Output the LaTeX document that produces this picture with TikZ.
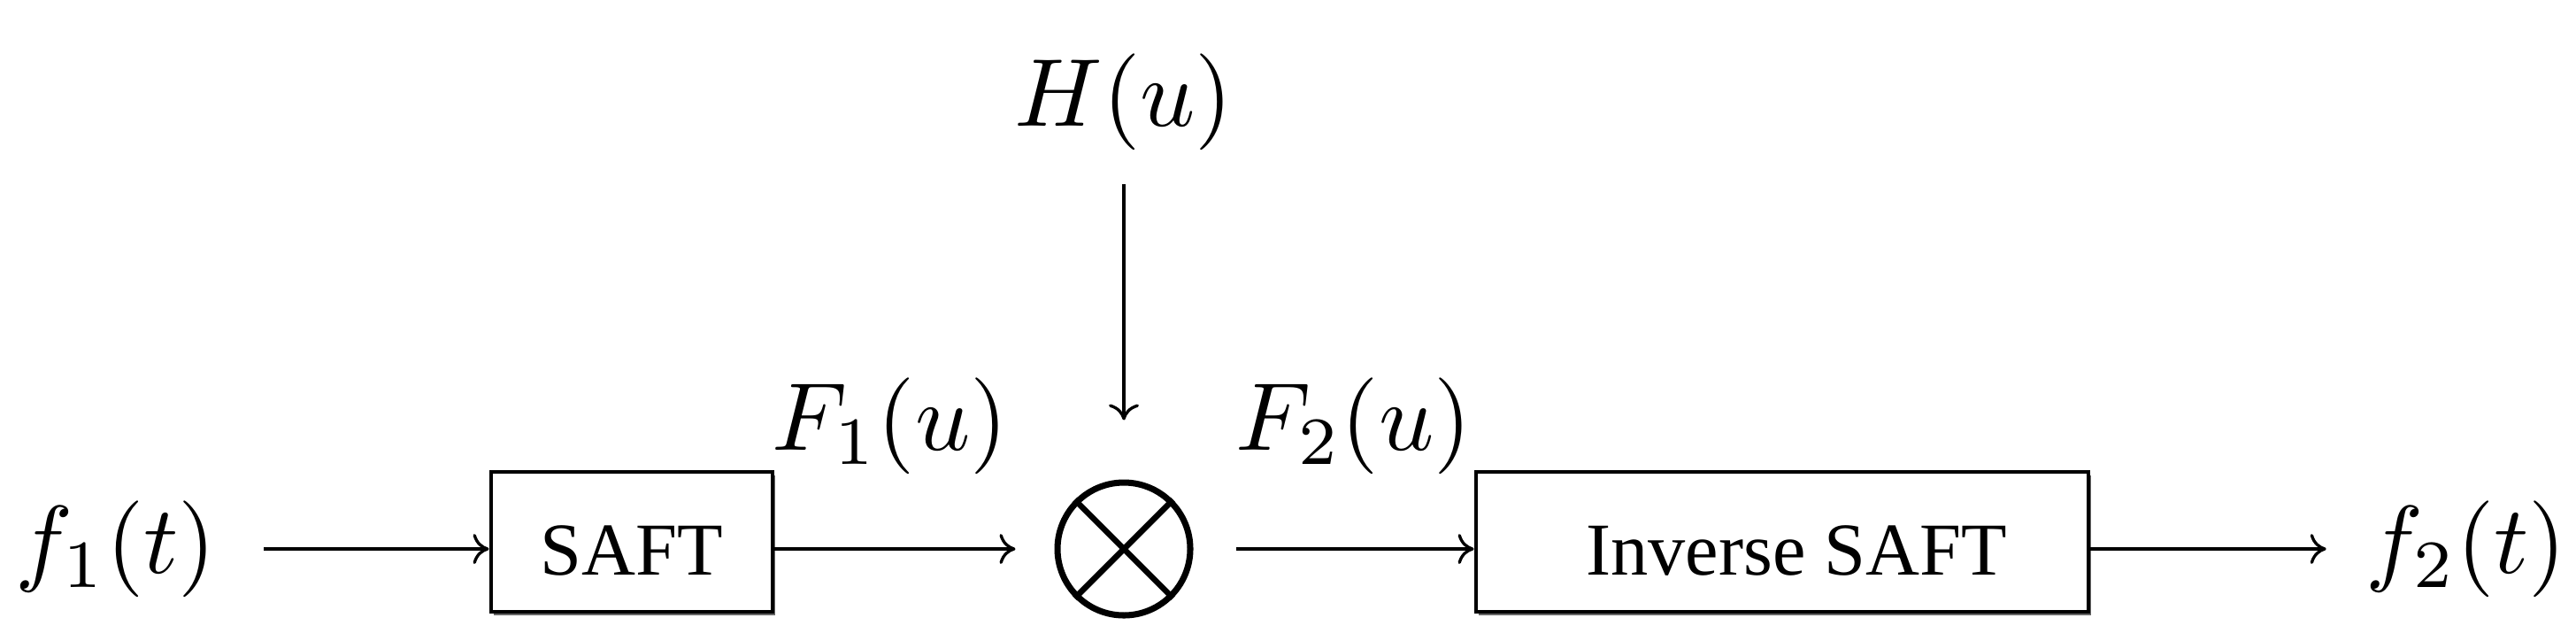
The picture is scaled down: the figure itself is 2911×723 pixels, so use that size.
\documentclass[tikz,border=0pt]{standalone}
\usepackage{fontspec}
\newfontfamily\tnr{Liberation Serif}
\usetikzlibrary{arrows.meta,shadows}
\begin{document}
\begin{tikzpicture}[x=0.1mm,y=-0.1mm,
  sig/.style={inner sep=0pt, scale=3.1},
  blk/.style={draw, line width=1.4pt, fill=white, inner sep=0pt,
    font=\tnr\fontsize{24}{28}\selectfont, text height=7.4mm, text depth=0pt,
    minimum height=15.8mm,
    drop shadow={shadow xshift=0.3mm, shadow yshift=-0.4mm, opacity=0.6, fill=black}},
  conn/.style={-{To[length=1.8mm,width=3.4mm]}, line width=0.95pt},
]
\useasboundingbox (0,0) rectangle (2911,723);
\node[sig] (f1) at (131,620) {$f_1(t)$};
\node[blk, minimum width=31.8mm] (saft) at (714,612) {SAFT};
\node[sig] (F1) at (1006,481) {$F_1(u)$};
\node[draw, circle, line width=2pt, minimum size=15mm, inner sep=0pt] (mul) at (1270,620) {};
\draw[line width=1.9pt] (mul.45) -- (mul.225) (mul.135) -- (mul.315);
\node[sig] (H) at (1270,115) {$H(u)$};
\node[sig] (F2) at (1530,481) {$F_2(u)$};
\node[blk, minimum width=69.2mm] (inv) at (2014,612) {\hspace*{3.2mm}Inverse SAFT};
\node[sig] (f2) at (2787,620) {$f_2(t)$};

\draw[conn, shorten <=5.2mm] (f1.east) -- (saft.west |- f1.east);
\draw[conn, shorten >=4.4mm] (saft.east |- mul.west) -- (mul.west);
\draw[conn, shorten <=3.6mm, shorten >=6.7mm] (H.south) -- (mul.north);
\draw[conn, shorten <=4.8mm] (mul.east) -- (inv.west |- mul.east);
\draw[conn, shorten >=4.3mm] (inv.east |- f2.west) -- (f2.west);
\end{tikzpicture}
\end{document}
